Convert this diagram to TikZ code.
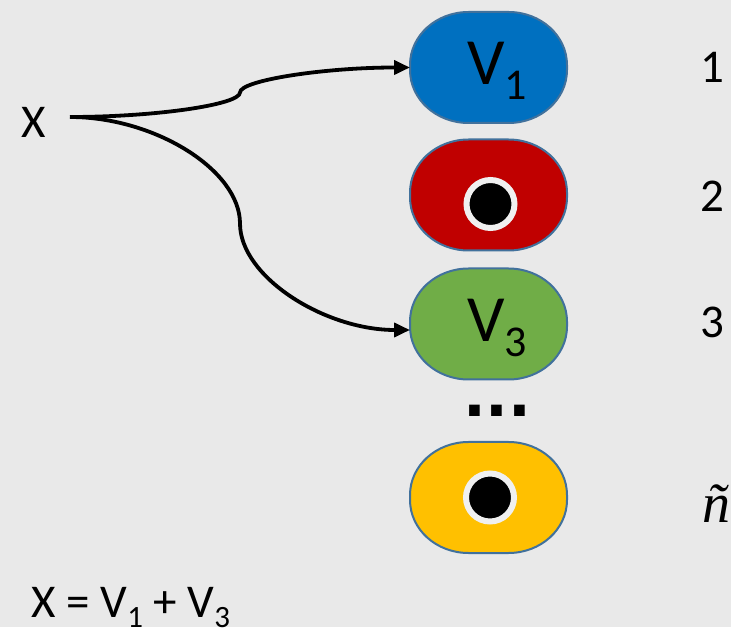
\documentclass[tikz,border=0pt]{standalone}
\usepackage{fontspec}
\setmainfont{Carlito}
\newfontfamily\serifit{Liberation Serif}
\newfontfamily\dejavu{DejaVu Sans}
\usetikzlibrary{arrows.meta}
\definecolor{bg}{HTML}{E9E9E9}
\definecolor{vblue}{HTML}{0070C0}
\definecolor{vred}{HTML}{C00000}
\definecolor{vgreen}{HTML}{70AD47}
\definecolor{vyellow}{HTML}{FFC000}
\definecolor{vborder}{HTML}{41719C}
\definecolor{ringwhite}{HTML}{F0F0F0}
\newcommand\drawblob[2]{%
  \draw[blobline, fill=#2] (#1.center)
    ++(-20pt,55.5pt) -- ++(40pt,0pt)
    arc[start angle=90, end angle=0, x radius=58.5pt, y radius=53pt]
    -- ++(0pt,-5pt)
    arc[start angle=0, end angle=-90, x radius=58.5pt, y radius=53pt]
    -- ++(-40pt,0pt)
    arc[start angle=-90, end angle=-180, x radius=58.5pt, y radius=53pt]
    -- ++(0pt,5pt)
    arc[start angle=180, end angle=90, x radius=58.5pt, y radius=53pt]
    -- cycle;}
\tikzset{
  blob/.style={rectangle, minimum width=157pt, minimum height=111pt, inner sep=0pt, outer sep=0pt},
  blobline/.style={draw=vborder, line width=2pt},
  dotring/.style={circle, fill=black, draw=ringwhite, line width=6pt, minimum size=48pt, inner sep=0pt},
  conn/.style={line width=3.8pt, -{Triangle[length=16pt,width=14pt]}},
  txt/.style={inner sep=0pt, outer sep=0pt, anchor=base west, text=black},
  big/.style={font=\fontsize{66}{70}\selectfont},
  mid/.style={font=\fontsize{47}{50}\selectfont},
}
\begin{document}
\begin{tikzpicture}[x=1pt,y=1pt]
\path[use as bounding box, fill=bg] (0,0) rectangle (731,627);
% blobs
\node[blob] (b1) at (488.5,559.5) {};
\drawblob{b1}{vblue}
\node[blob] (b2) at (488.5,432) {};
\drawblob{b2}{vred}
\node[blob] (b3) at (488.5,303) {};
\drawblob{b3}{vgreen}
\node[blob] (b4) at (488.5,129.5) {};
\drawblob{b4}{vyellow}
% inner dots
\node[dotring] (d2) at (490.5,423) {};
\node[dotring] (d4) at (490,129.5) {};
% labels in blobs
\node[txt, big] (l1) at (467.5,542) {V\raisebox{-15pt}{\fontsize{44}{46}\selectfont 1}};
\node[txt, big] (l3) at (467,285) {V\raisebox{-15pt}{\fontsize{44}{46}\selectfont 3}};
% ellipsis
\node[txt, font=\fontsize{60}{64}\dejavu\bfseries] (ell) at (463,210) {...};
% X and connectors
\node[txt, mid] (x) at (21.6,489) {X};
\coordinate (xs) at (70,510);
\draw[conn] (xs) .. controls (155,510) and (240,522.25) .. (240,534.5)
  .. controls (240,546.75) and (324.5,559.5) .. (b1.west);
\draw[conn] (xs) .. controls (155,510) and (240,456.75) .. (240,403.5)
  .. controls (240,350.25) and (324.5,297) .. ([yshift=-6pt]b3.west);
% right indices
\node[txt, mid] (n1) at (700,544) {1};
\node[txt, mid] (n2) at (700,415) {2};
\node[txt, mid] (n3) at (700,289) {3};
\node[txt, font=\fontsize{56}{60}\serifit\itshape] (nt) at (702,105) {ñ};
% formula
\node[txt, mid] (f) at (31.6,10) {X = V\raisebox{-10.6pt}{\fontsize{31}{33}\selectfont 1} + V\raisebox{-10.6pt}{\fontsize{31}{33}\selectfont 3}};
\end{tikzpicture}
\end{document}
